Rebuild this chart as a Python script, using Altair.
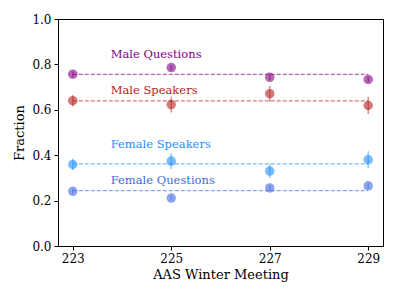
import altair as alt
import pandas as pd

meetings = [223, 225, 227, 229]
series = ["Male Questions", "Male Speakers", "Female Speakers", "Female Questions"]
male_q = [0.757, 0.786, 0.743, 0.734]
male_q_err = [0.012, 0.012, 0.012, 0.012]
male_s = [0.640, 0.623, 0.671, 0.619]
male_s_err = [0.025, 0.035, 0.035, 0.038]
female_s = [0.359, 0.374, 0.330, 0.380]
female_s_err = [0.025, 0.035, 0.030, 0.037]
female_q = [0.241, 0.211, 0.256, 0.265]
female_q_err = [0.012, 0.012, 0.012, 0.012]
means = [0.756, 0.639, 0.362, 0.244]
label_y = [0.843, 0.684, 0.446, 0.287]
label_x = 223.77
colors = ["#800080", "#B22222", "#1E90FF", "#4169E1"]

vals = [male_q, male_s, female_s, female_q]
errs = [male_q_err, male_s_err, female_s_err, female_q_err]
rows = []
for s, v, e in zip(series, vals, errs):
    for m, vv, ee in zip(meetings, v, e):
        rows.append({"series": s, "meeting": m, "value": vv, "lo": vv - ee, "hi": vv + ee})
df = pd.DataFrame(rows)
mdf = pd.DataFrame({"series": series, "mean": means, "x0": meetings[0], "x1": meetings[-1],
                    "ly": label_y, "lx": label_x})

FONT = "DejaVu Serif"
xs = alt.Scale(domain=[222.7, 229.3], nice=False, zero=False)
ys = alt.Scale(domain=[0, 1], nice=False)
cs = alt.Scale(domain=series, range=colors)

x = alt.X("meeting:Q", scale=xs, title="AAS Winter Meeting",
          axis=alt.Axis(values=meetings, format="d", grid=False, tickSize=4,
                        labelPadding=3, titlePadding=4))
y = alt.Y("value:Q", scale=ys, title="Fraction",
          axis=alt.Axis(values=[0, 0.2, 0.4, 0.6, 0.8, 1.0], format=".1f", grid=False,
                        tickSize=4, labelPadding=3, titlePadding=5))

base = alt.Chart(df)
pts = base.mark_circle(size=90, opacity=0.6).encode(
    x=x, y=y, color=alt.Color("series:N", scale=cs, legend=None))
err = base.mark_rule(strokeWidth=1.5, opacity=0.5).encode(
    x="meeting:Q", y="lo:Q", y2="hi:Q", color=alt.Color("series:N", scale=cs, legend=None))
mline = alt.Chart(mdf).mark_rule(strokeDash=[4, 2], strokeWidth=1.2, opacity=0.6).encode(
    x=alt.X("x0:Q", scale=xs), x2="x1:Q", y=alt.Y("mean:Q", scale=ys),
    color=alt.Color("series:N", scale=cs, legend=None))
txt = alt.Chart(mdf).mark_text(align="left", baseline="middle", font=FONT, fontSize=11.5).encode(
    x=alt.X("lx:Q", scale=xs), y=alt.Y("ly:Q", scale=ys),
    text="series:N", color=alt.Color("series:N", scale=cs, legend=None))

chart = alt.layer(mline, err, pts, txt).properties(
    width=325, height=227,
    autosize=alt.AutoSizeParams(type="none"),
    padding={"left": 58, "top": 19, "right": 17, "bottom": 50},
    background="white",
).configure_view(stroke="black", strokeWidth=1).configure_axis(
    labelFont=FONT, titleFont=FONT, labelFontSize=12, titleFontSize=13,
    titleFontWeight="normal", labelColor="black", titleColor="black",
    domainColor="black", tickColor="black", domainWidth=1, tickWidth=1,
).configure_text(font=FONT, fontSize=11.5)

chart.save("out.html", embed_options={"renderer": "svg", "actions": False})
